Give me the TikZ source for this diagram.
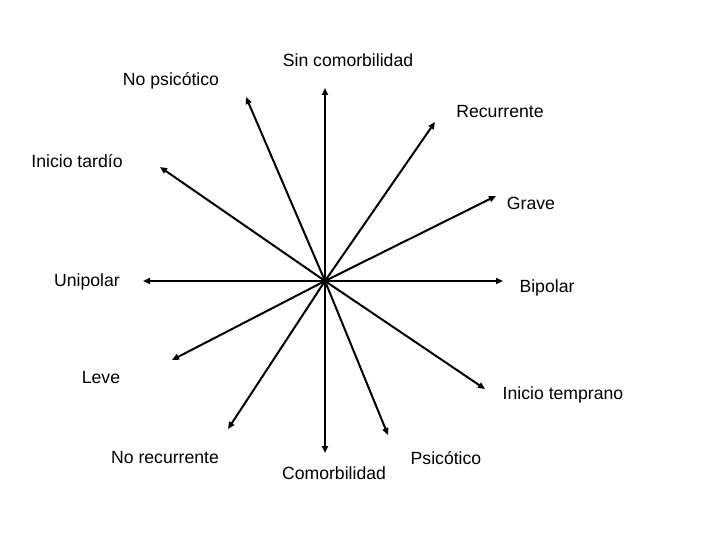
\documentclass[tikz,border=0pt]{standalone}
\usepackage{fontspec}
\setmainfont{Liberation Sans}
\usepackage{tikz}
\usetikzlibrary{calc, arrows.meta, positioning}

\tikzset{
    ray/.style={-{Triangle[length=7bp,width=6bp]}, line width=2bp, black},
    lbl/.style={font=\fontsize{17.7}{21}\selectfont, inner sep=0pt}
}

\begin{document}
\begin{tikzpicture}[x=1bp, y=-1bp]
    \useasboundingbox (0,0) rectangle (720,540);

    % Centre
    \coordinate (c) at (325,281);

    % Arrow tips
    \coordinate (tsincom) at (325,88);
    \coordinate (tcom) at (325,453);
    \coordinate (tunip) at (143,281);
    \coordinate (tbip) at (503,281);
    \coordinate (tnopsi) at (246,97);
    \coordinate (tpsi) at (388,435);
    \coordinate (trec) at (435,122);
    \coordinate (tnorec) at (228,429);
    \coordinate (ttard) at (160,167);
    \coordinate (ttemp) at (485,389);
    \coordinate (tgrave) at (496,196);
    \coordinate (tleve) at (172,360);

    % Labels
    \node[lbl] (sincom) at (348,60) {Sin comorbilidad};
    \node[lbl] (com) at (334,473) {Comorbilidad};
    \node[lbl] (unip) at (87,282) {Unipolar};
    \node[lbl] (bip) at (547,288) {Bipolar};
    \node[lbl] (nopsi) at (171,81) {No psicótico};
    \node[lbl] (psi) at (446,458) {Psicótico};
    \node[lbl] (rec) at (500,112) {Recurrente};
    \node[lbl] (norec) at (165,458) {No recurrente};
    \node[lbl] (tard) at (77,161) {Inicio tardío};
    \node[lbl] (temp) at (563,395) {Inicio temprano};
    \node[lbl] (grave) at (531,203) {Grave};
    \node[lbl] (leve) at (101,378) {Leve};

    % Rays
    \foreach \t in {tsincom, tcom, tunip, tbip, tnopsi, tpsi, trec, tnorec, ttard, ttemp, tgrave, tleve}
        \draw[ray] (c) -- (\t);
\end{tikzpicture}
\end{document}
